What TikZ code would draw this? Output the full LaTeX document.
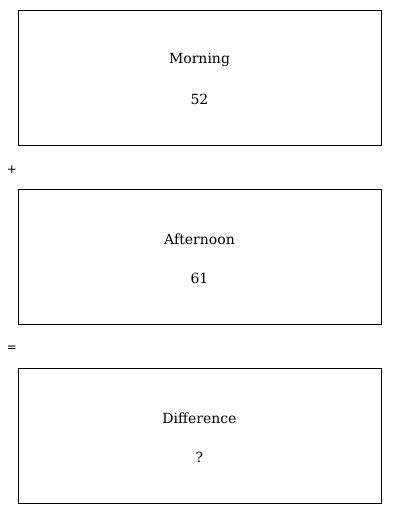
\documentclass[tikz,border=0pt]{standalone}
\usepackage{fontspec}
\setmainfont{DejaVu Serif}
\newfontfamily\signfont{DejaVu Sans}
\begin{document}
\begin{tikzpicture}[x=1pt,y=-1pt,
  card/.style={draw=black,line width=1pt},
  lbl/.style={font=\fontsize{14}{16}\selectfont,anchor=center,inner sep=0pt},
  sign/.style={font=\signfont\fontsize{12}{14}\selectfont,anchor=center,inner sep=0pt}]
\useasboundingbox (0,0) rectangle (400,514);
\node[card,minimum width=363pt,minimum height=135pt,inner sep=0pt] (b1) at (199.5,77.5) {};
\node[card,minimum width=363pt,minimum height=135pt,inner sep=0pt] (b2) at (199.5,256.5) {};
\node[card,minimum width=363pt,minimum height=135pt,inner sep=0pt] (b3) at (199.5,435.5) {};
\node[lbl] (t1) at (199.5,60) {Morning};
\node[lbl] (v1) at (199.5,99) {52};
\node[lbl] (t2) at (199.5,239) {Afternoon};
\node[lbl] (v2) at (199.5,278) {61};
\node[lbl] (t3) at (199.5,418) {Difference};
\node[lbl] (v3) at (199.5,457) {?};
\node[sign] (plus) at (12,170) {+};
\node[sign] (eq) at (12,349) {=};
\end{tikzpicture}
\end{document}
